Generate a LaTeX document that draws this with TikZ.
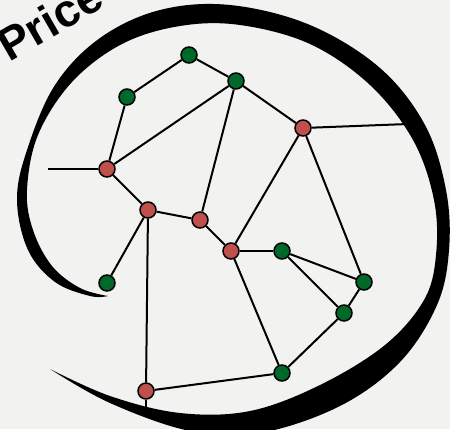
\documentclass[tikz,border=0pt]{standalone}
\usepackage{fontspec}
\setmainfont{Liberation Sans}
\begin{document}
\begin{tikzpicture}[x=1pt,y=-1pt,
  edge/.style={line width=2pt,black},
  rnode/.style={circle,draw=black,line width=1.5pt,fill=nodered,minimum size=16pt,inner sep=0pt},
  gnode/.style={circle,draw=black,line width=1.5pt,fill=nodegreen,minimum size=16pt,inner sep=0pt}]
\definecolor{bg}{RGB}{242,242,240}
\definecolor{nodered}{RGB}{192,80,77}
\definecolor{nodegreen}{RGB}{0,104,40}
\useasboundingbox (0,0) rectangle (450,429);
\fill[bg] (0,0) rectangle (450,429);
\clip (0,0) rectangle (450,429);
% swirl
\fill[black] plot[smooth,tension=0.6] coordinates {(50,369) (110,403) (190,431) (260,433) (340,406) (400,362) (437,305) (449,250) (446,190) (425,125) (380,68) (310,25) (230,5) (160,10) (100,38) (55,85) (27,150) (17,200) (28,250) (55,282) (90,296) (108,296)}
  -- plot[smooth,tension=0.6] coordinates {(108,296) (80,288) (52,266) (33,230) (27,190) (38,135) (72,82) (122,44) (180,26) (240,25) (310,44) (370,85) (413,140) (434,200) (436,255) (424,300) (385,345) (320,385) (250,411) (180,413) (110,396) (50,369)} -- cycle;
% text
\node[anchor=base west,inner sep=0pt,rotate=30,font=\bfseries\fontsize{46}{46}\selectfont] (title) at (9,62.5) {Price};
% nodes
\node[gnode] (g1) at (189,55) {};
\node[gnode] (g2) at (236,81) {};
\node[gnode] (g3) at (127,97) {};
\node[rnode] (r1) at (303,128) {};
\node[rnode] (r2) at (107,169) {};
\node[rnode] (r3) at (148,210) {};
\node[rnode] (r4) at (200,220) {};
\node[rnode] (r5) at (231,251) {};
\node[gnode] (g4) at (282,251) {};
\node[gnode] (g5) at (364,282) {};
\node[gnode] (g6) at (344,313) {};
\node[gnode] (g7) at (107,283) {};
\node[gnode] (g8) at (282,373) {};
\node[rnode] (r6) at (146,391) {};
\coordinate (e1) at (48,169);
\coordinate (e2) at (408,124);
\coordinate (e3) at (146,412);
% edges
\foreach \a/\b in {g3/g1,g1/g2,g3/r2,r2/g2,g2/r4,g2/r1,r1/r5,r1/g5,r1/e2,r2/e1,r2/r3,r3/r4,r4/r5,r3/g7,r3/r6,r5/g4,r5/g8,g4/g5,g4/g6,g5/g6,g6/g8,g8/r6,r6/e3}
  \draw[edge] (\a) -- (\b);
\end{tikzpicture}
\end{document}
